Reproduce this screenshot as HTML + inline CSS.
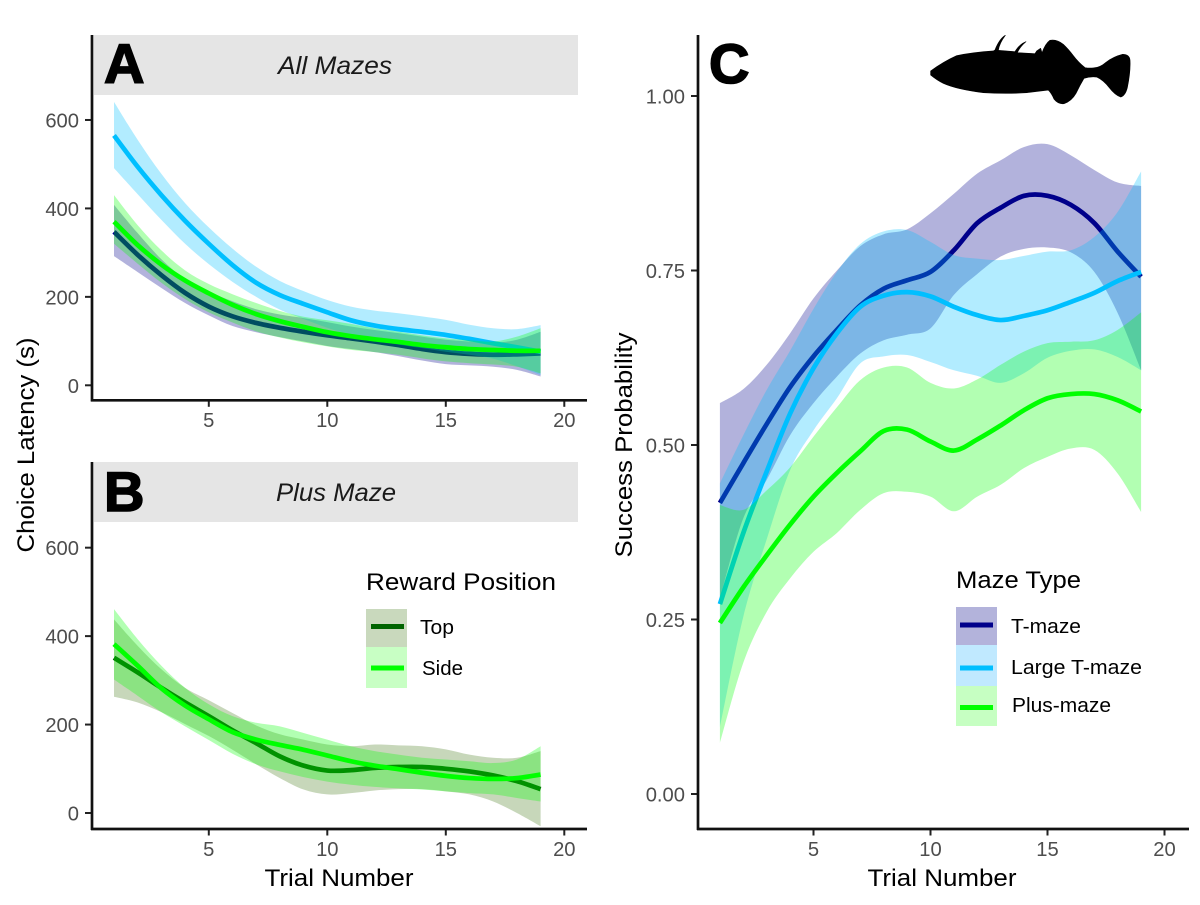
<!DOCTYPE html>
<html lang="en">
<head>
<meta charset="utf-8">
<title>Choice latency and success probability by trial</title>
<style>
html,body{margin:0;padding:0;background:#fff;}
svg{display:block;}
text{font-family:"Liberation Sans",sans-serif;}
.tick{font-size:20.2px;fill:#4d4d4d;}
.title{font-size:24.5px;fill:#000;}
.legend-label{font-size:20.5px;fill:#000;}
.strip-label{font-size:25px;font-style:italic;fill:#1a1a1a;text-anchor:middle;}
.panel-letter{font-size:56px;font-weight:bold;fill:#000;stroke:#000;stroke-width:1.6px;}
</style>
</head>
<body>
<svg id="chart" width="1200" height="905" viewBox="0 0 1200 905" xmlns="http://www.w3.org/2000/svg">
  <rect x="0" y="0" width="1200" height="905" fill="#fff"/>

  <rect x="94" y="35" width="484" height="60" fill="#e5e5e5"/>
  <rect x="94" y="462" width="484" height="60" fill="#e5e5e5"/>

  <g id="panelA"></g>
  <g id="panelB"></g>
  <g id="panelC"></g>

  <text class="strip-label" x="335" y="74" textLength="114" lengthAdjust="spacingAndGlyphs">All Mazes</text>
  <text class="strip-label" x="336" y="501" textLength="120" lengthAdjust="spacingAndGlyphs">Plus Maze</text>
  <text class="panel-letter" x="104" y="83">A</text>
  <text class="panel-letter" x="104" y="511">B</text>
  <text class="panel-letter" x="709" y="83">C</text>

  <g stroke="#111" stroke-width="2.7" fill="none">
    <path d="M92 35V401.5"/>
    <path d="M91 400.3H587"/>
  </g>
  <g stroke="#111" stroke-width="2.7" fill="none">
    <path d="M92 462V830"/>
    <path d="M91 829H587"/>
  </g>
  <g stroke="#111" stroke-width="2.7" fill="none">
    <path d="M698 35V830"/>
    <path d="M697 829H1189"/>
  </g>

  <text class="title" transform="translate(34 445) rotate(-90)" text-anchor="middle" textLength="215" lengthAdjust="spacingAndGlyphs">Choice Latency (s)</text>
  <text class="title" x="339" y="886" text-anchor="middle" textLength="149" lengthAdjust="spacingAndGlyphs">Trial Number</text>
  <text class="title" transform="translate(632 445) rotate(-90)" text-anchor="middle" textLength="225" lengthAdjust="spacingAndGlyphs">Success Probability</text>
  <text class="title" x="942" y="886" text-anchor="middle" textLength="149" lengthAdjust="spacingAndGlyphs">Trial Number</text>

  <g>
    <text class="title" x="366" y="590" textLength="190" lengthAdjust="spacingAndGlyphs">Reward Position</text>
    <rect x="366" y="609" width="41" height="38" fill="#c9d9bd"/>
    <rect x="366" y="647" width="41" height="41" fill="#c8ffc4"/>
    <line x1="371" x2="404" y1="626.5" y2="626.5" stroke="#006400" stroke-width="5"/>
    <line x1="371" x2="404" y1="668" y2="668" stroke="#00ff00" stroke-width="5"/>
    <text class="legend-label" x="420" y="634" textLength="34" lengthAdjust="spacingAndGlyphs">Top</text>
    <text class="legend-label" x="422" y="675" textLength="41" lengthAdjust="spacingAndGlyphs">Side</text>
  </g>

  <g>
    <text class="title" x="956" y="588" textLength="125" lengthAdjust="spacingAndGlyphs">Maze Type</text>
    <rect x="956" y="607" width="41" height="38" fill="#b3b3db"/>
    <rect x="956" y="645" width="41" height="41" fill="#c0e9ff"/>
    <rect x="956" y="686" width="41" height="40" fill="#c6ffc2"/>
    <line x1="960" x2="993" y1="625" y2="625" stroke="#00008b" stroke-width="5"/>
    <line x1="960" x2="993" y1="668" y2="668" stroke="#00bfff" stroke-width="5"/>
    <line x1="960" x2="993" y1="707.5" y2="707.5" stroke="#00ff00" stroke-width="5"/>
    <text class="legend-label" x="1011" y="633" textLength="70" lengthAdjust="spacingAndGlyphs">T-maze</text>
    <text class="legend-label" x="1011" y="674" textLength="131" lengthAdjust="spacingAndGlyphs">Large T-maze</text>
    <text class="legend-label" x="1012" y="712" textLength="99" lengthAdjust="spacingAndGlyphs">Plus-maze</text>
  </g>

  <g transform="translate(900 25) scale(0.3333)">
    <path fill="#000" stroke="#000" stroke-width="2" stroke-linejoin="round" d="M92 138 L92 150 Q110 165 130 175 Q170 193 250 203 Q320 207 380 203 L445 195 Q455 205 462 222 Q475 238 492 236 Q515 228 528 205 Q540 180 552 160 Q570 154 590 156 Q610 165 628 188 Q645 210 662 216 Q676 212 682 188 Q692 140 690 105 Q688 88 668 88 Q640 95 618 112 Q600 128 580 129 Q565 130 555 128 Q535 112 520 92 Q505 72 490 58 Q470 42 450 46 Q436 56 426 84 L422 70 L410 78 L405 86 L352 83 Q360 65 378 50 Q358 58 345 80 L295 76 Q298 55 316 31 Q298 42 285 75 L280 78 Q220 82 170 92 Q130 110 92 138Z"/>
  </g>
</svg>

<script>
const trials = [1,2,3,4,5,6,7,8,9,10,11,12,13,14,15,16,17,18,19];
const xTickValues = [5,10,15,20];
const latencyTickValues = [0,200,400,600];
const probabilityTickValues = [0,0.25,0.5,0.75,1];
const probabilityTickLabels = ["0.00","0.25","0.50","0.75","1.00"];

/* Panel A: All Mazes, choice latency (s) */
const allTmazeMean  = [347,295,249,209,178,156,141,130,121,113,106,99,91,82,75,71,69,70,72];
const allTmazeUpper = [408,344,285,240,212,190,172,160,152,143,133,125,118,110,103,99,96,103,121];
const allTmazeLower = [292,256,220,186,158,134,120,109,99,89,82,75,66,56,48,45,42,35,20];
const allLargeMean  = [565,494,430,372,320,272,232,204,184,165,147,135,127,121,114,105,95,86,76];
const allLargeUpper = [641,555,478,412,357,309,268,236,213,193,178,169,163,156,148,137,129,127,136];
const allLargeLower = [491,432,374,320,274,234,200,171,150,130,114,102,92,84,76,69,60,43,23];
const allPlusMean   = [370,317,273,237,208,182,161,145,132,120,111,104,98,91,86,82,80,78,78];
const allPlusUpper  = [430,362,305,260,229,206,186,168,155,147,139,129,121,113,106,102,99,110,129];
const allPlusLower  = [320,275,232,195,165,142,122,108,97,88,80,75,69,61,54,50,47,42,27];

/* Panel B: Plus Maze, choice latency (s) */
const topMean  = [351,318,283,250,219,187,158,128,107,96,97,102,104,104,100,94,85,72,54];
const topUpper = [438,378,325,283,255,226,198,178,166,155,151,155,153,151,144,132,125,125,140];
const topLower = [263,250,228,201,174,143,110,79,53,42,45,51,54,54,49,42,26,0,-30];
const sideMean  = [382,333,282,243,212,183,166,154,143,130,117,107,99,91,84,79,77,79,87];
const sideUpper = [461,393,333,283,246,219,204,196,181,166,151,140,132,125,121,117,113,121,151];
const sideLower = [302,265,228,196,165,134,110,94,81,71,64,59,56,53,49,45,42,34,26];

/* Panel C: success probability by maze type */
const successTmazeMean  = [0.417,0.474,0.53,0.583,0.627,0.665,0.70,0.724,0.736,0.748,0.779,0.818,0.84,0.857,0.857,0.844,0.818,0.777,0.741];
const successTmazeUpper = [0.56,0.58,0.615,0.66,0.71,0.75,0.785,0.802,0.809,0.832,0.86,0.889,0.908,0.927,0.931,0.915,0.894,0.876,0.871];
const successTmazeLower = [0.28,0.395,0.45,0.514,0.56,0.598,0.631,0.65,0.658,0.667,0.715,0.745,0.77,0.781,0.783,0.776,0.748,0.689,0.607];
const successLargeMean  = [0.272,0.374,0.462,0.545,0.61,0.66,0.698,0.714,0.719,0.713,0.698,0.686,0.679,0.685,0.693,0.705,0.718,0.735,0.748];
const successLargeUpper = [0.445,0.514,0.579,0.635,0.695,0.748,0.788,0.806,0.808,0.791,0.772,0.767,0.765,0.771,0.777,0.779,0.798,0.834,0.892];
const successLargeLower = [0.096,0.254,0.365,0.464,0.521,0.567,0.617,0.627,0.629,0.619,0.607,0.599,0.589,0.603,0.625,0.635,0.637,0.626,0.607];
const successPlusMean   = [0.245,0.296,0.342,0.386,0.426,0.46,0.491,0.52,0.522,0.505,0.492,0.508,0.528,0.55,0.567,0.573,0.573,0.564,0.548];
const successPlusUpper  = [0.414,0.407,0.435,0.468,0.512,0.554,0.593,0.611,0.611,0.589,0.581,0.594,0.615,0.634,0.646,0.648,0.65,0.665,0.69];
const successPlusLower  = [0.073,0.188,0.261,0.309,0.347,0.374,0.407,0.431,0.433,0.426,0.405,0.426,0.443,0.467,0.483,0.495,0.493,0.459,0.404];

const NS = "http://www.w3.org/2000/svg";
function xLeft(t){ return 208.8 + (t - 5) * 23.7; }
function xRight(t){ return 813.5 + (t - 5) * 23.4; }
function yA(v){ return 385.3 - v * 0.4422; }
function yB(v){ return 813 - v * 0.4422; }
function yC(p){ return 794 - 698 * p; }

function toPoints(values, xf, yf){
  return values.map(function(v, i){ return [xf(trials[i]), yf(v)]; });
}
function splineSegments(pts){
  let d = "";
  for (let i = 0; i < pts.length - 1; i++){
    const p0 = pts[Math.max(i - 1, 0)], p1 = pts[i], p2 = pts[i + 1], p3 = pts[Math.min(i + 2, pts.length - 1)];
    const c1x = p1[0] + (p2[0] - p0[0]) / 6, c1y = p1[1] + (p2[1] - p0[1]) / 6;
    const c2x = p2[0] - (p3[0] - p1[0]) / 6, c2y = p2[1] - (p3[1] - p1[1]) / 6;
    d += "C" + c1x.toFixed(2) + " " + c1y.toFixed(2) + " " + c2x.toFixed(2) + " " + c2y.toFixed(2) + " " + p2[0].toFixed(2) + " " + p2[1].toFixed(2);
  }
  return d;
}
function linePath(pts){
  return "M" + pts[0][0].toFixed(2) + " " + pts[0][1].toFixed(2) + splineSegments(pts);
}
function bandPath(upperPts, lowerPts){
  const rev = lowerPts.slice().reverse();
  return linePath(upperPts) + "L" + rev[0][0].toFixed(2) + " " + rev[0][1].toFixed(2) + splineSegments(rev) + "Z";
}
function drawSeries(group, xf, yf, mean, upper, lower, bandColor, bandOpacity, lineColor, name){
  const band = document.createElementNS(NS, "path");
  
  
  band.setAttribute("d", bandPath(toPoints(upper, xf, yf), toPoints(lower, xf, yf)));
  band.setAttribute("fill", bandColor);
  band.setAttribute("fill-opacity", bandOpacity);
  group.appendChild(band);
  const line = document.createElementNS(NS, "path");
  
  
  line.setAttribute("d", linePath(toPoints(mean, xf, yf)));
  line.setAttribute("fill", "none");
  line.setAttribute("stroke", lineColor);
  line.setAttribute("stroke-width", "4.7");
  group.appendChild(line);
}
function drawXTicks(group, xf, axisY, labelY){
  xTickValues.forEach(function(t){
    const tick = document.createElementNS(NS, "line");
    
    
    tick.setAttribute("x1", xf(t)); tick.setAttribute("x2", xf(t));
    tick.setAttribute("y1", axisY); tick.setAttribute("y2", axisY + 6.5);
    tick.setAttribute("stroke", "#222"); tick.setAttribute("stroke-width", "2");
    group.appendChild(tick);
    const label = document.createElementNS(NS, "text");
    
    
    label.setAttribute("class", "tick");
    label.setAttribute("x", xf(t)); label.setAttribute("y", labelY);
    label.setAttribute("text-anchor", "middle");
    label.textContent = String(t);
    group.appendChild(label);
  });
}
function drawYTicks(group, yf, values, labels, axisX, labelX){
  values.forEach(function(v, i){
    const tick = document.createElementNS(NS, "line");
    
    
    tick.setAttribute("x1", axisX - 7); tick.setAttribute("x2", axisX);
    tick.setAttribute("y1", yf(v)); tick.setAttribute("y2", yf(v));
    tick.setAttribute("stroke", "#222"); tick.setAttribute("stroke-width", "2");
    group.appendChild(tick);
    const label = document.createElementNS(NS, "text");
    
    
    label.setAttribute("class", "tick");
    label.setAttribute("x", labelX); label.setAttribute("y", yf(v) + 7.5);
    label.setAttribute("text-anchor", "end");
    label.textContent = labels[i];
    group.appendChild(label);
  });
}

const gA = document.getElementById("panelA");
const gB = document.getElementById("panelB");
const gC = document.getElementById("panelC");

drawSeries(gA, xLeft, yA, allTmazeMean, allTmazeUpper, allTmazeLower, "#00008b", 0.3, "#00008b", "all-mazes-tmaze");
drawSeries(gA, xLeft, yA, allLargeMean, allLargeUpper, allLargeLower, "#00bfff", 0.3, "#00bfff", "all-mazes-large-tmaze");
drawSeries(gA, xLeft, yA, allPlusMean, allPlusUpper, allPlusLower, "#00ff00", 0.3, "#00ff00", "all-mazes-plusmaze");
drawXTicks(gA, xLeft, 400.3, 427);
drawYTicks(gA, yA, latencyTickValues, latencyTickValues.map(String), 92, 79);

drawSeries(gB, xLeft, yB, topMean, topUpper, topLower, "#2f6a00", 0.27, "#006400", "plus-maze-top");
drawSeries(gB, xLeft, yB, sideMean, sideUpper, sideLower, "#00ff00", 0.3, "#00ff00", "plus-maze-side");
drawXTicks(gB, xLeft, 829, 856);
drawYTicks(gB, yB, latencyTickValues, latencyTickValues.map(String), 92, 79);

drawSeries(gC, xRight, yC, successTmazeMean, successTmazeUpper, successTmazeLower, "#00008b", 0.3, "#00008b", "success-tmaze");
drawSeries(gC, xRight, yC, successLargeMean, successLargeUpper, successLargeLower, "#00bfff", 0.3, "#00bfff", "success-large-tmaze");
drawSeries(gC, xRight, yC, successPlusMean, successPlusUpper, successPlusLower, "#00ff00", 0.3, "#00ff00", "success-plusmaze");
drawXTicks(gC, xRight, 829, 856);
drawYTicks(gC, yC, probabilityTickValues, probabilityTickLabels, 698, 685);
</script>
</body>
</html>
